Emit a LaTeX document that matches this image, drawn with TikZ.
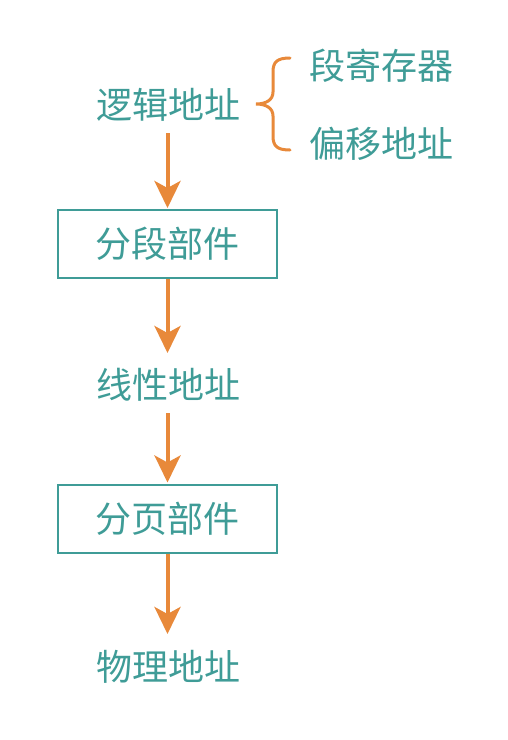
\documentclass[tikz,border=0pt]{standalone}
\usepackage{fontspec}
\setmainfont{Noto Sans CJK SC}
\usetikzlibrary{arrows.meta}
\definecolor{tealc}{HTML}{3F9C97}
\definecolor{orangec}{HTML}{E8893A}
\tikzset{
  lbl/.style={text=tealc, font=\fontsize{36}{42}\selectfont, inner sep=0pt},
  boxc/.style={draw=tealc, line width=2pt, minimum width=219pt, minimum height=68pt, text=tealc, font=\fontsize{36}{42}\selectfont},
  flow/.style={draw=orangec, line width=4pt, -{Stealth[length=27pt,width=26pt,inset=7pt]}, shorten >=1pt},
  bracec/.style={draw=orangec, line width=3pt, line cap=round}
}
\begin{document}
\begin{tikzpicture}[x=1pt,y=1pt]
\useasboundingbox[fill=white] (0,0) rectangle (508,-740);
\node[lbl] (la) at (168,-105) {逻辑地址};
\node[lbl] (seg) at (381,-66) {段寄存器};
\node[lbl] (off) at (381,-144) {偏移地址};
\node[boxc] (b1) at (167.5,-244) {分段部件};
\node[lbl] (lin) at (168,-385) {线性地址};
\node[boxc] (b2) at (167.5,-518.5) {分页部件};
\node[lbl] (phy) at (168,-667) {物理地址};
\coordinate (a1s) at (167.5,-133);
\coordinate (a2e) at (167.5,-354);
\coordinate (a3s) at (167.5,-413);
\coordinate (a4e) at (167.5,-635);
\draw[flow] (a1s) -- (b1.north);
\draw[flow] (b1.south) -- (a2e);
\draw[flow] (a3s) -- (b2.north);
\draw[flow] (b2.south) -- (a4e);
\coordinate (bt) at (290,-58);
\coordinate (bm) at (256,-104);
\coordinate (bb) at (290,-150);
\draw[bracec] (bt) .. controls (277,-58) and (273,-62) .. (273,-72)
  -- (273,-92) .. controls (273,-100) and (266,-104) .. (bm)
  .. controls (266,-104) and (273,-108) .. (273,-116)
  -- (273,-136) .. controls (273,-146) and (277,-150) .. (bb);
\end{tikzpicture}
\end{document}
